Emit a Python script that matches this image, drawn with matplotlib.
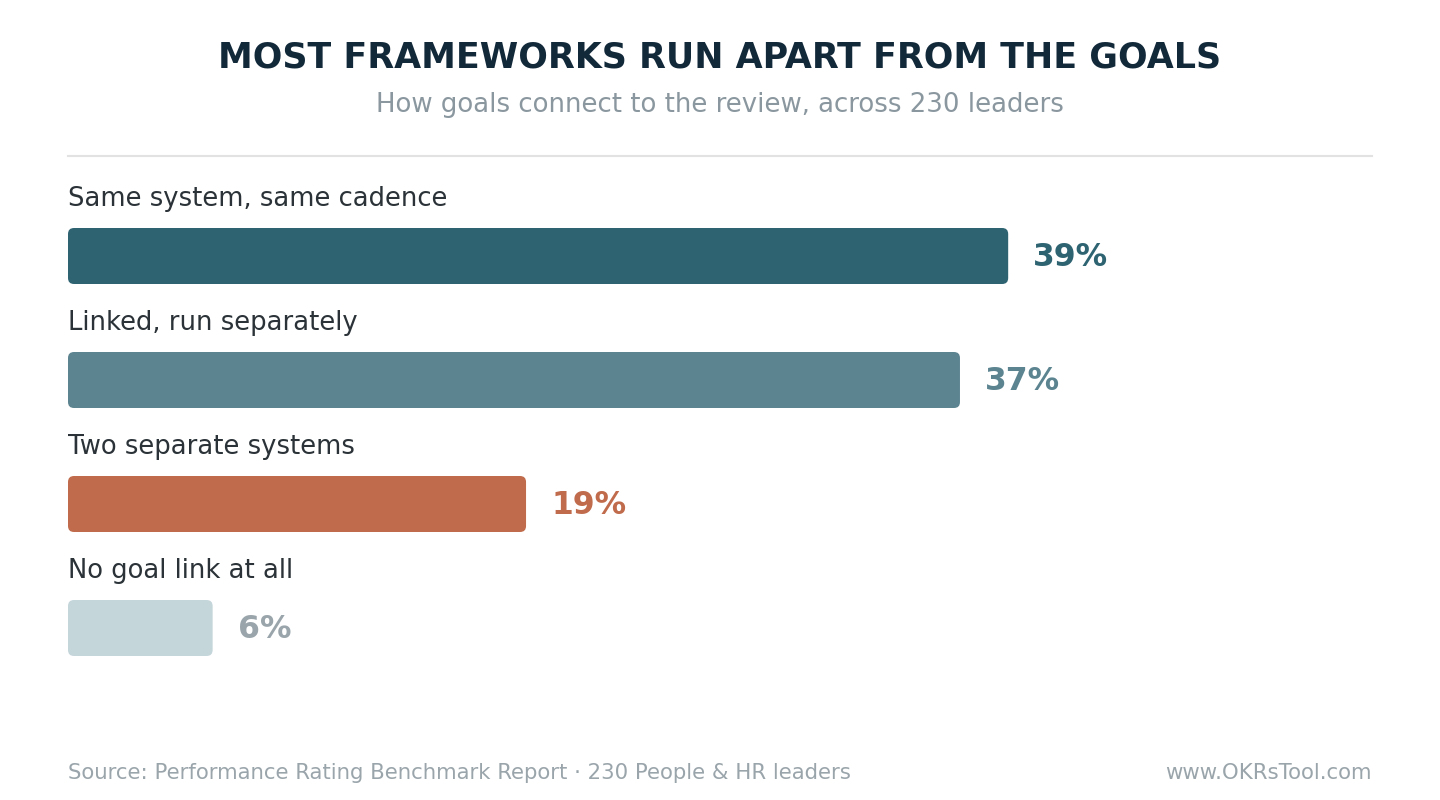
import matplotlib
matplotlib.use("Agg")
import matplotlib.pyplot as plt
from matplotlib.patches import FancyBboxPatch
from matplotlib.lines import Line2D

plt.rcParams["font.family"] = ["DejaVu Sans"]

categories = ["Same system, same cadence", "Linked, run separately",
              "Two separate systems", "No goal link at all"]
values = [39, 37, 19, 6]
bar_colors = ["#2E6472", "#5B8490", "#C06B4B", "#C5D6DA"]
value_colors = ["#2E6472", "#5B8490", "#C06B4B", "#9AA5AB"]

title = "MOST FRAMEWORKS RUN APART FROM THE GOALS"
subtitle = "How goals connect to the review, across 230 leaders"
source = "Source: Performance Rating Benchmark Report · 230 People & HR leaders"
site = "www.OKRsTool.com"

W, H = 1440, 800
fig = plt.figure(figsize=(W / 100, H / 100), dpi=100)
fig.patch.set_facecolor("white")

def fx(px):
    return px / W

def fy(py):
    return 1 - py / H

left, right = 68, 1372
row = 124
top_px = 256 - row / 2 - 50
n = len(categories)
bottom_px = top_px + row * n + 40
ax = fig.add_axes([fx(left), fy(bottom_px), fx(right - left), (bottom_px - top_px) / H])
xmax = max(values) / 0.721
ax.set_xlim(0, xmax)
y_top = -(256 - top_px) / row
y_bot = (bottom_px - 256) / row
ax.set_ylim(y_bot, y_top)
ax.axis("off")

px_per_x = (right - left) / xmax
bar_h = 56 / row
radius_px = 6
r_x = radius_px / px_per_x
r_y = radius_px / row
for i, (v, c) in enumerate(zip(values, bar_colors)):
    p = FancyBboxPatch((0, i - bar_h / 2), v, bar_h,
                       boxstyle=f"round,pad=0,rounding_size={r_x}",
                       mutation_aspect=r_y / r_x,
                       facecolor=c, edgecolor="none")
    ax.add_patch(p)
    ax.text(v + 25 / px_per_x, i + 1.5 / row, f"{v}%", ha="left", va="center",
            fontsize=22.7, fontweight="bold", color=value_colors[i])
    ax.text(0, i - 57 / row, categories[i], ha="left", va="center",
            fontsize=18.6, color="#2B3338")

fig.text(0.5, fy(57), title, ha="center", va="center", fontsize=25.1,
         fontweight="bold", color="#12293A")
fig.text(0.5, fy(105), subtitle, ha="center", va="center", fontsize=18.7,
         color="#8A979F")
fig.add_artist(Line2D([fx(68), fx(1372)], [fy(156), fy(156)], color="#E2E2E2",
                      linewidth=1.5, transform=fig.transFigure))
fig.text(fx(68), fy(773), source, ha="left", va="center", fontsize=15.3,
         color="#9AA5AB")
fig.text(fx(1372), fy(773), site, ha="right", va="center", fontsize=15.3,
         color="#9AA5AB")

fig.savefig("out.png", dpi=100, facecolor="white")
